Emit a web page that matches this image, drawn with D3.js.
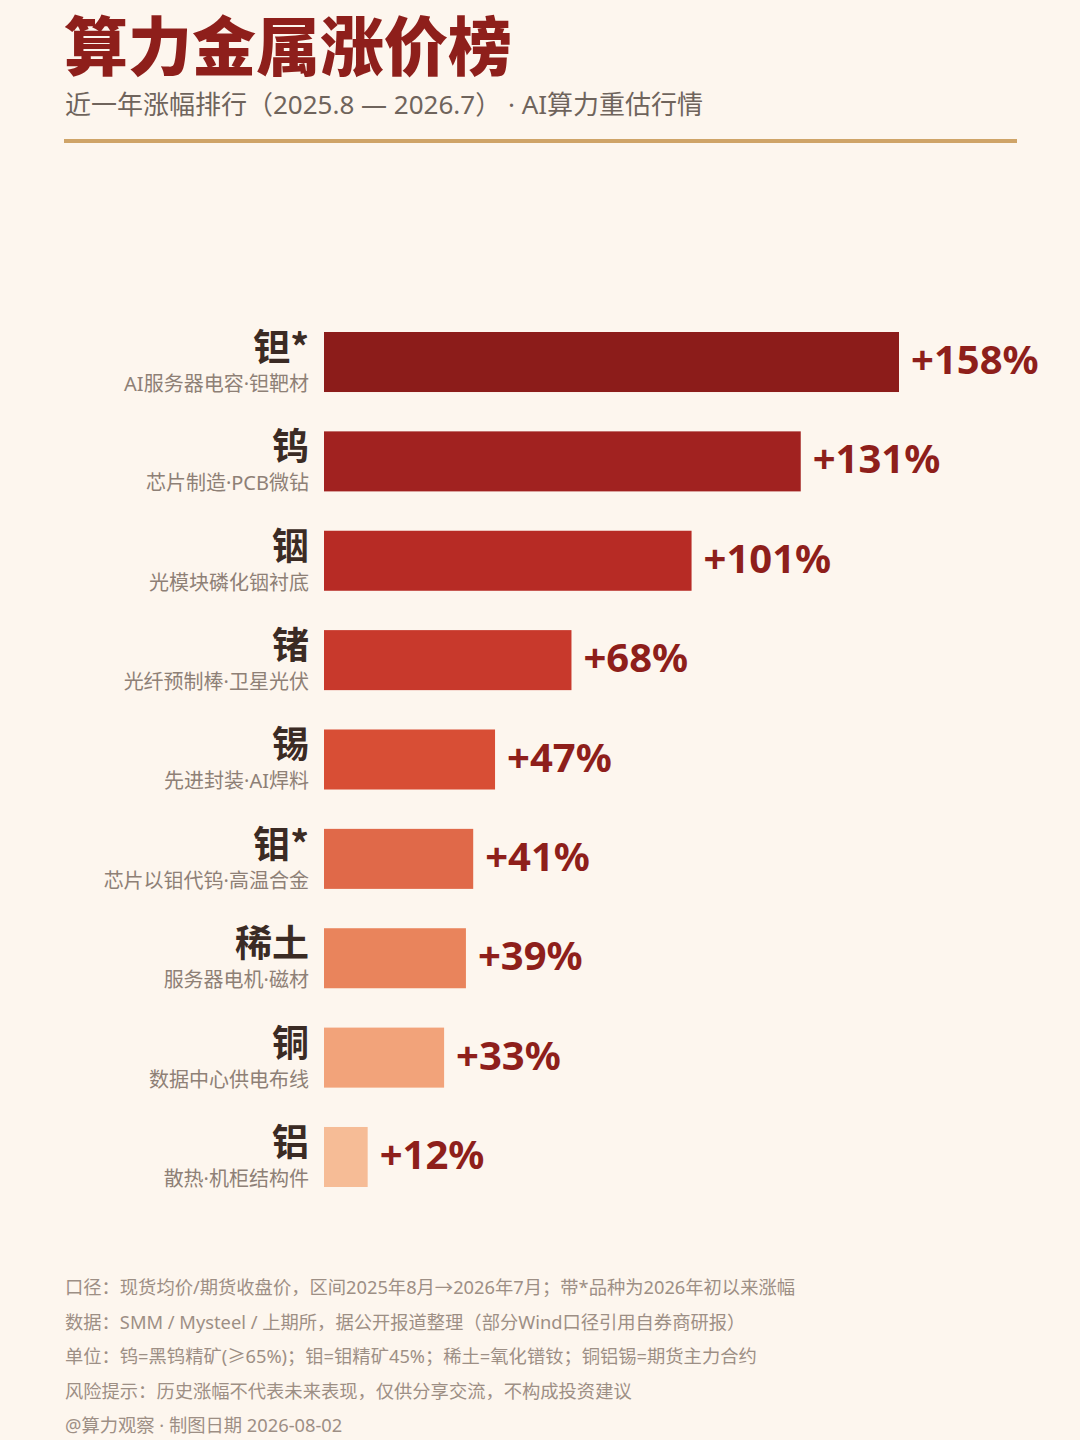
<!DOCTYPE html>
<html><head><meta charset="utf-8">
<script src="https://cdn.jsdelivr.net/npm/d3@7"></script>
<style>
html,body{margin:0;padding:0;background:#FDF6EE;}
svg{display:block;}
</style></head>
<body><div id="chart"></div>
<script>
const metals = ["钽*","钨","铟","锗","锡","钼*","稀土","铜","铝"];
const uses = ["AI服务器电容·钽靶材","芯片制造·PCB微钻","光模块磷化铟衬底","光纤预制棒·卫星光伏","先进封装·AI焊料","芯片以钼代钨·高温合金","服务器电机·磁材","数据中心供电布线","散热·机柜结构件"];
const gains = [158,131,101,68,47,41,39,33,12];
const barColors = ["#8C1C1A","#A12220","#B72B25","#C8392C","#D84E35","#E06949","#E9845C","#F2A37A","#F6BC96"];
const titleText = "算力金属涨价榜";
const subtitleText = "近一年涨幅排行（2025.8 — 2026.7） · AI算力重估行情";
const footnotes = [
  "口径：现货均价/期货收盘价，区间2025年8月→2026年7月；带*品种为2026年初以来涨幅",
  "数据：SMM / Mysteel / 上期所，据公开报道整理（部分Wind口径引用自券商研报）",
  "单位：钨=黑钨精矿(≥65%)；钼=钼精矿45%；稀土=氧化镨钕；铜铝锡=期货主力合约",
  "风险提示：历史涨幅不代表未来表现，仅供分享交流，不构成投资建议",
  "@算力观察 · 制图日期 2026-08-02"
];

const W = 1080, H = 1440;
const CJK = "'Noto Sans CJK SC','Noto Sans',sans-serif";
const LATIN = "'Noto Sans','Noto Sans CJK SC',sans-serif";

const svg = d3.select("#chart").append("svg").attr("width", W).attr("height", H);
svg.append("rect").attr("width", W).attr("height", H).attr("fill", "#FDF6EE");

svg.append("text").attr("x", 64).attr("y", 70)
  .attr("font-family", CJK).attr("font-weight", 900).attr("font-size", 64)
  .attr("fill", "#8E1F1B").text(titleText);
svg.append("text").attr("x", 65).attr("y", 114)
  .attr("font-family", LATIN).attr("font-size", 26).attr("fill", "#6F645C").text(subtitleText);
svg.append("rect").attr("x", 64).attr("y", 139).attr("width", 953).attr("height", 4).attr("fill", "#CFA468");

const x = d3.scaleLinear().domain([0, 158]).range([324, 899]);
const y = d3.scaleBand().domain(metals).range([332, 1187]).paddingInner(0.396).paddingOuter(0);

const rows = metals.map((m, i) => ({m, u: uses[i], v: gains[i], c: barColors[i]}));

const g = svg.append("g");
g.selectAll("rect.bar").data(rows).join("rect").attr("class", "bar")
  .attr("x", x(0)).attr("y", d => y(d.m))
  .attr("width", d => x(d.v) - x(0)).attr("height", y.bandwidth())
  .attr("fill", d => d.c);

g.selectAll("text.val").data(rows).join("text").attr("class", "val")
  .attr("x", d => x(d.v) + 12).attr("y", d => y(d.m) + y.bandwidth()/2 + 12)
  .attr("font-family", LATIN).attr("font-weight", 700).attr("font-size", 40)
  .attr("fill", "#8E1F1B").text(d => "+" + d.v + "%");

g.selectAll("text.metal").data(rows).join("text").attr("class", "metal")
  .attr("x", 309).attr("y", d => y(d.m) + 29)
  .attr("text-anchor", "end")
  .attr("font-family", CJK).attr("font-weight", 700).attr("font-size", 37)
  .attr("fill", "#3B2B24").text(d => d.m);

g.selectAll("text.use").data(rows).join("text").attr("class", "use")
  .attr("x", 309).attr("y", d => y(d.m) + 59)
  .attr("text-anchor", "end")
  .attr("font-family", LATIN).attr("font-size", 20)
  .attr("fill", "#8E8076").text(d => d.u);

svg.append("g").selectAll("text").data(footnotes).join("text")
  .attr("x", 65).attr("y", (d, i) => 1294 + i * 34.6)
  .attr("font-family", LATIN).attr("font-size", 18.3)
  .attr("fill", "#9D8F85").text(d => d);
</script>
</body></html>
